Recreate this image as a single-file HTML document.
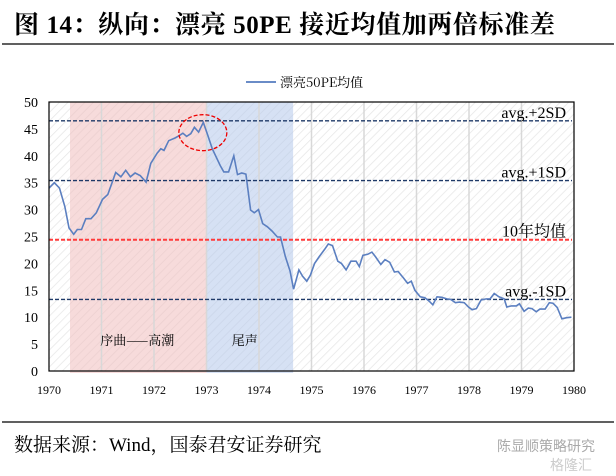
<!DOCTYPE html>
<html><head><meta charset="utf-8"><style>
body{margin:0;width:616px;height:476px;background:#fff;overflow:hidden;font-family:"Liberation Serif","Noto Serif CJK SC",serif}
svg{display:block}
</style></head><body>
<svg id="chart" width="616" height="476" xmlns="http://www.w3.org/2000/svg">
<defs>
<pattern id="hatch" patternUnits="userSpaceOnUse" width="6" height="6" patternTransform="rotate(45)">
<line x1="0" y1="0" x2="0" y2="6" stroke="#e6e6e6" stroke-width="1.5"/>
</pattern>
</defs>
<text x="14" y="33" font-size="25" font-weight="bold" fill="#000" letter-spacing="0.6" font-family="Liberation Serif, Noto Serif CJK SC, serif">图 14：纵向：漂亮 50PE 接近均值加两倍标准差</text>
<line x1="2" y1="44" x2="614" y2="44" stroke="#000" stroke-width="1.2"/>
<g>
<line x1="246" y1="82" x2="276" y2="82" stroke="#6a8cc7" stroke-width="2"/>
<text x="280" y="87" font-size="13" font-family="Noto Serif CJK SC, serif">漂亮50PE均值</text>
</g>
<g id="plot"></g>
<line x1="2" y1="422" x2="614" y2="422" stroke="#000" stroke-width="1.2"/>
<text x="14" y="451" font-size="19" font-family="Liberation Serif, Noto Serif CJK SC, serif">数据来源：Wind，国泰君安证券研究</text>
<text x="497" y="451" font-size="14" fill="#aaa" font-family="Noto Sans CJK SC, sans-serif">陈显顺策略研究</text>
<text x="550" y="470" font-size="14" fill="#ccc" font-family="Noto Sans CJK SC, sans-serif">格隆汇</text>
</svg>
<script>
const xTicks=["1970","1971","1972","1973","1974","1975","1976","1977","1978","1979","1980"];
const yTicks=[0,5,10,15,20,25,30,35,40,45,50];
const seriesT=[0,.1,.2,.3,.38,.47,.54,.62,.7,.8,.9,1.02,1.12,1.27,1.37,1.46,1.55,1.64,1.74,1.85,1.94,2.06,2.13,2.19,2.28,2.4,2.47,2.55,2.62,2.7,2.77,2.85,2.94,3.02,3.11,3.26,3.33,3.42,3.52,3.59,3.67,3.75,3.84,3.91,3.99,4.07,4.16,4.25,4.35,4.41,4.5,4.59,4.66,4.76,4.83,4.91,4.98,5.06,5.15,5.25,5.32,5.4,5.5,5.57,5.66,5.75,5.85,5.91,5.98,6.07,6.15,6.22,6.32,6.4,6.49,6.58,6.65,6.75,6.83,6.9,6.97,7.07,7.16,7.24,7.31,7.39,7.48,7.58,7.65,7.74,7.82,7.91,7.99,8.06,8.14,8.23,8.33,8.4,8.48,8.57,8.67,8.72,8.81,8.9,8.96,9.05,9.13,9.2,9.28,9.35,9.45,9.53,9.6,9.68,9.77,9.86,9.95];
const seriesPE=[34,35,34,30.6,26.6,25.4,26.3,26.3,28.3,28.3,29.4,31.9,32.8,36.9,36.1,37.3,36.1,36.8,36.3,35.1,38.6,40.5,41.3,41,42.8,43.3,43.7,44.2,43.6,44.1,45.3,44.4,46.2,43.9,41.3,38.2,37,37,40,36.5,36.8,36.6,29.9,29.4,30,27.4,26.8,26,24.9,24.9,21.3,18.6,15.2,18.8,17.6,16.7,17.8,20,21.3,22.6,23.6,23.3,20.4,20,18.8,20.4,20.4,19.4,21.5,21.7,22.1,21.2,19.8,20.7,20.2,18.4,18.5,17.3,16.3,16.7,15,13.8,13.6,13,12.3,13.8,13.7,13.4,13.3,12.7,12.8,12.7,11.9,11.4,11.6,13.2,13.4,13.4,14.4,13.8,13.4,11.9,12.1,12.1,12.5,11.1,11.7,11.6,11,11.5,11.5,12.7,12.6,11.8,9.7,9.9,10];
const refNames=["avg.+2SD","avg.+1SD","10年均值","avg.-1SD"];
const refValues=[46.5,35.4,24.4,13.3];
const phaseNames=["序曲——高潮","尾声"];
const phaseStart=[0.4,3.0];
const phaseEnd=[3.0,4.65];
const circleCenter=[2.93,44.3];

const L=49,R=574,T=102,B=371;
const X=t=>L+(R-L)*t/10;
const Y=v=>B-(B-T)*v/50;
const NS="http://www.w3.org/2000/svg";
const g=document.getElementById('plot');
function mk(tag,attrs,parent){const e=document.createElementNS(NS,tag);for(const k in attrs)e.setAttribute(k,attrs[k]);(parent||g).appendChild(e);return e;}

let e=mk('rect',{x:L,y:T,width:R-L,height:B-T,fill:'url(#hatch)'});


const phaseFill=['rgba(240,190,190,0.55)','rgba(180,200,235,0.55)'];
phaseNames.forEach((n,i)=>{
 let r=mk('rect',{x:X(phaseStart[i]),y:T,width:X(phaseEnd[i])-X(phaseStart[i]),height:B-T+2,fill:phaseFill[i]});
 
 
});
xTicks.forEach((t,i)=>{
 if(i>0&&i<10){let l=mk('line',{x1:X(i),x2:X(i),y1:T,y2:B,stroke:'#d8d8d8','stroke-width':1.5});
 
 }
 let tx=mk('text',{x:X(i),y:394,'font-size':12,'text-anchor':'middle'});tx.textContent=t;
 
 
});
yTicks.forEach(v=>{
 let tx=mk('text',{x:38,y:Y(v)+5,'font-size':14,'text-anchor':'end'});tx.textContent=v;
 
 
});
phaseNames.forEach((n,i)=>{
 const cx=i==0?(X(phaseStart[i])+X(phaseEnd[i]))/2-1:(X(phaseStart[i])+X(phaseEnd[i]))/2-5;
 let tx=mk('text',{x:cx,y:345,'font-size':13,'text-anchor':'middle','font-family':'Noto Serif CJK SC, serif'});tx.textContent=n;
 
 
});
refValues.forEach((v,i)=>{
 let l=mk('line',{x1:L,x2:R-2,y1:Y(v),y2:Y(v),stroke:i==2?'#ff3b3b':'#1f3a68','stroke-width':i==2?2:1.3,'stroke-dasharray':'4,2'});
 
 
 let tx=mk('text',{x:R-8,y:Y(v)-3,'font-size':16,'text-anchor':'end'});tx.textContent=refNames[i];
 
 
});
let d=seriesT.map((t,i)=>(i?'L':'M')+X(t).toFixed(1)+' '+Y(seriesPE[i]).toFixed(1)).join(' ');
e=mk('path',{d:d,fill:'none',stroke:'#5b7fc0','stroke-width':1.6});


e=mk('ellipse',{cx:X(circleCenter[0]),cy:Y(circleCenter[1]),rx:24,ry:18,fill:'none',stroke:'#e00','stroke-width':1.3,'stroke-dasharray':'4,2'});


e=mk('rect',{x:L,y:T,width:R-L,height:B-T,fill:'none',stroke:'#000','stroke-width':1.2});


</script>
</body></html>
